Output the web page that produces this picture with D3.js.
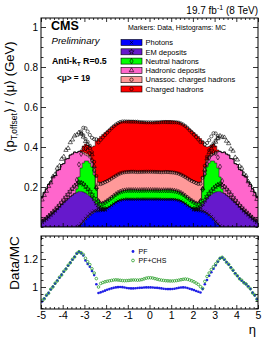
<!DOCTYPE html>
<html>
<head>
<meta charset="utf-8">
<script src="https://cdn.jsdelivr.net/npm/d3@7"></script>
<style>
  body { margin: 0; background: #fff; }
  svg { display: block; font-family: "Liberation Sans", Arial, sans-serif; }
</style>
</head>
<body>
<div id="chart"></div>
<script>
// offset per pile-up interaction, split by PF candidate type.
// the distributions are symmetric in eta, so values are given per |eta| bin
// (width 0.1, from |eta| = 0 up to 5) and looked up for both signs
const photons = [
  0.140, 0.140, 0.140, 0.140, 0.140, 0.140, 0.140, 0.140, 0.140, 0.140,
  0.140, 0.139, 0.137, 0.134, 0.130, 0.124, 0.117, 0.109, 0.102, 0.096,
  0.091, 0.088, 0.086, 0.084, 0.080, 0.074, 0.066, 0.057, 0.047, 0.036,
  0.024, 0.013, 0.004, 0, 0, 0, 0, 0, 0, 0,
  0, 0, 0, 0, 0, 0, 0, 0, 0, 0,
];
const emDeposits = [
  0, 0, 0, 0, 0, 0, 0, 0, 0, 0,
  0, 0, 0, 0, 0, 0, 0, 0, 0, 0,
  0.001, 0.004, 0.010, 0.020, 0.038, 0.058, 0.079, 0.098, 0.116, 0.134,
  0.151, 0.165, 0.174, 0.172, 0.168, 0.160, 0.152, 0.142, 0.132, 0.122,
  0.112, 0.102, 0.092, 0.082, 0.073, 0.064, 0.055, 0.046, 0.038, 0.030,
];
const neutralHadrons = [
  0.045, 0.045, 0.045, 0.045, 0.045, 0.045, 0.046, 0.046, 0.046, 0.046,
  0.045, 0.044, 0.043, 0.042, 0.041, 0.040, 0.039, 0.039, 0.038, 0.037,
  0.034, 0.029, 0.024, 0.031, 0.072, 0.128, 0.155, 0.165, 0.167, 0.160,
  0.145, 0.117, 0.072, 0.018, 0, 0, 0, 0, 0, 0,
  0, 0, 0, 0, 0, 0, 0, 0, 0, 0,
];
const hadronicDeposits = [
  0, 0, 0, 0, 0, 0, 0, 0, 0, 0,
  0, 0, 0, 0, 0, 0, 0, 0, 0, 0,
  0, 0, 0, 0, 0.005, 0.020, 0.025, 0.025, 0.025, 0.030,
  0.048, 0.080, 0.128, 0.182, 0.207, 0.205, 0.208, 0.200, 0.208, 0.195,
  0.200, 0.185, 0.190, 0.175, 0.178, 0.162, 0.158, 0.145, 0.135, 0.122,
];
const unassocCharged = [
  0.092, 0.092, 0.092, 0.092, 0.092, 0.092, 0.092, 0.093, 0.093, 0.092,
  0.092, 0.092, 0.092, 0.092, 0.092, 0.093, 0.095, 0.097, 0.099, 0.101,
  0.104, 0.105, 0.103, 0.090, 0.055, 0.020, 0.010, 0.010, 0.010, 0.010,
  0.007, 0.003, 0, 0, 0, 0, 0, 0, 0, 0,
  0, 0, 0, 0, 0, 0, 0, 0, 0, 0,
];
const chargedHadrons = [
  0.248, 0.248, 0.249, 0.250, 0.251, 0.253, 0.253, 0.253, 0.253, 0.254,
  0.254, 0.255, 0.256, 0.257, 0.257, 0.257, 0.256, 0.254, 0.251, 0.247,
  0.242, 0.237, 0.230, 0.217, 0.180, 0.105, 0.065, 0.047, 0.045, 0.045,
  0.030, 0.007, 0, 0, 0, 0, 0, 0, 0, 0,
  0, 0, 0, 0, 0, 0, 0, 0, 0, 0,
];

// data / MC ratio, one value per eta bin from -5 to 5 (width 0.1)
const ratioPF = [
  0.896, 0.918, 0.939, 0.958, 0.982, 1.003, 1.024, 1.046, 1.066, 1.088,
  1.109, 1.130, 1.152, 1.174, 1.195, 1.216, 1.238, 1.250, 1.240, 1.225,
  1.190, 1.165, 1.145, 1.115, 1.085, 1.020, 0.957, 0.962, 0.968, 0.974,
  0.980, 0.985, 0.990, 0.994, 0.997, 0.999, 1.000, 0.999, 0.996, 0.993,
  0.991, 0.990, 0.990, 0.991, 0.993, 0.994, 0.995, 0.996, 0.997, 0.997,
  0.997, 0.996, 0.995, 0.994, 0.992, 0.990, 0.988, 0.986, 0.985, 0.985,
  0.986, 0.988, 0.991, 0.994, 0.996, 0.997, 0.996, 0.993, 0.988, 0.983,
  0.978, 0.972, 0.966, 0.961, 0.985, 1.020, 1.050, 1.080, 1.105, 1.130,
  1.155, 1.180, 1.205, 1.210, 1.195, 1.178, 1.160, 1.140, 1.118, 1.098,
  1.078, 1.060, 1.045, 1.032, 1.020, 1.005, 0.985, 0.960, 0.940, 0.915,
];
const ratioCHS = [
  0.905, 0.915, 0.942, 0.955, 0.985, 1.000, 1.027, 1.043, 1.070, 1.085,
  1.112, 1.128, 1.155, 1.172, 1.198, 1.214, 1.240, 1.252, 1.245, 1.232,
  1.205, 1.180, 1.160, 1.130, 1.100, 1.060, 1.000, 1.025, 1.032, 1.037,
  1.041, 1.044, 1.047, 1.050, 1.051, 1.050, 1.048, 1.046, 1.045, 1.046,
  1.047, 1.049, 1.050, 1.050, 1.049, 1.050, 1.053, 1.058, 1.063, 1.066,
  1.066, 1.064, 1.060, 1.056, 1.052, 1.049, 1.047, 1.045, 1.044, 1.043,
  1.043, 1.044, 1.046, 1.049, 1.052, 1.055, 1.057, 1.055, 1.050, 1.044,
  1.037, 1.028, 1.018, 1.002, 0.990, 1.040, 1.075, 1.100, 1.125, 1.145,
  1.165, 1.185, 1.205, 1.212, 1.198, 1.175, 1.162, 1.138, 1.120, 1.095,
  1.080, 1.058, 1.048, 1.030, 1.022, 1.002, 0.988, 0.957, 0.943, 0.912,
];

const components = [
  { key: 'photons', label: 'Photons', color: '#0000ff', marker: d3.symbolTimes, values: photons },
  { key: 'em', label: 'EM deposits', color: '#6619cc', marker: d3.symbolStar, values: emDeposits },
  { key: 'neutral', label: 'Neutral hadrons', color: '#00ff00', marker: d3.symbolDiamond, values: neutralHadrons },
  { key: 'hadronic', label: 'Hadronic deposits', color: '#ff66cc', marker: d3.symbolTriangle, values: hadronicDeposits },
  { key: 'unassoc', label: 'Unassoc. charged hadrons', color: '#ff9999', marker: d3.symbolCircle, values: unassocCharged },
  { key: 'charged', label: 'Charged hadrons', color: '#ff0000', marker: d3.symbolCircle, values: chargedHadrons },
];

const yTicksTop = [0.2, 0.4, 0.6, 0.8, 1];
const yTicksRatio = [1, 1.2];
const xTicks = [-5, -4, -3, -2, -1, 0, 1, 2, 3, 4, 5];

// bin low edges in eta
const etaLow = d3.range(100).map(i => -5 + i * 0.1);
const binWidth = 0.1;
// maps an eta bin to its |eta| bin
const absBin = lo => Math.min(49, Math.floor(Math.abs(lo + binWidth / 2) * 10));

const svg = d3.select('#chart').append('svg')
  .attr('width', 273)
  .attr('height', 343);

const x = d3.scaleLinear().domain([-5, 5]).range([41, 258]);
const yTop = d3.scaleLinear().domain([0, 1.045]).range([227, 18]);
const yRatio = d3.scaleLinear().domain([0.843, 1.364]).range([309, 236]);

// rows for the stack: one per eta bin, plus a closing row at eta = 5
const rows = etaLow.map((lo) => {
  const row = { lo };
  components.forEach((c) => { row[c.key] = c.values[absBin(lo)]; });
  return row;
});
rows.push({ ...rows[rows.length - 1], lo: 5 });

const stacked = d3.stack().keys(components.map(c => c.key))(rows);

svg.append('clipPath').attr('id', 'clipTop')
  .append('rect').attr('x', 41).attr('y', 18).attr('width', 217).attr('height', 209);
svg.append('clipPath').attr('id', 'clipRatio')
  .append('rect').attr('x', 41).attr('y', 236).attr('width', 217).attr('height', 73);

// ---------- upper pad ----------
const upper = svg.append('g').attr('clip-path', 'url(#clipTop)');

const area = d3.area()
  .x(d => x(d.data.lo))
  .y0(d => yTop(d[0]))
  .y1(d => yTop(d[1]))
  .curve(d3.curveStepAfter);

const edgeLine = d3.line()
  .x(d => x(d.data.lo))
  .y(d => yTop(d[1]))
  .curve(d3.curveStepAfter);

upper.selectAll('path.area').data(stacked).enter().append('path')
  .attr('class', 'area')
  .attr('d', area)
  .attr('fill', (d, i) => components[i].color);

upper.selectAll('path.edge').data(stacked).enter().append('path')
  .attr('class', 'edge')
  .attr('d', edgeLine)
  .attr('fill', 'none')
  .attr('stroke', '#000')
  .attr('stroke-width', 0.5);

// data markers: measured cumulative offset at every bin centre
stacked.forEach((layer, j) => {
  const pts = layer.slice(0, 100)
    .map((d, i) => ({ eta: d.data.lo + binWidth / 2, v: d[1] * ratioPF[i], size: d[1] - d[0] }))
    .filter(p => p.size > 0);
  const sym = d3.symbol().type(components[j].marker).size(8);
  upper.append('g').selectAll('path').data(pts).enter().append('path')
    .attr('transform', p => `translate(${x(p.eta)},${yTop(p.v)})`)
    .attr('d', sym)
    .attr('fill', 'none')
    .attr('stroke', '#000')
    .attr('stroke-width', 0.6);
});

// ---------- ratio pad ----------
const lower = svg.append('g').attr('clip-path', 'url(#clipRatio)');
const binCentre = etaLow.map(lo => lo + binWidth / 2);

lower.append('g').selectAll('circle').data(ratioPF).enter().append('circle')
  .attr('cx', (d, i) => x(binCentre[i]))
  .attr('cy', d => yRatio(d))
  .attr('r', 1.3)
  .attr('fill', '#1f1fe6');

lower.append('g').selectAll('circle').data(ratioCHS).enter().append('circle')
  .attr('cx', (d, i) => x(binCentre[i]))
  .attr('cy', d => yRatio(d))
  .attr('r', 1.3)
  .attr('fill', 'none')
  .attr('stroke', '#2ca02c')
  .attr('stroke-width', 0.8);

// ---------- frames and ticks ----------
function drawFrame(yScale, yMajor, yMinorStep, y0, y1, xLabels) {
  const g = svg.append('g');
  const [lo, hi] = yScale.domain();
  const yMinor = d3.range(Math.ceil(lo / yMinorStep) * yMinorStep, hi, yMinorStep)
    .filter(v => !yMajor.some(m => Math.abs(m - v) < 1e-6));
  const xMinor = d3.range(-5, 5.001, 0.2).filter(v => Math.abs(v - Math.round(v)) > 1e-6);

  const left = g.append('g').attr('transform', 'translate(41,0)')
    .call(d3.axisLeft(yScale).tickValues(yMajor).tickSize(-5).tickPadding(3)
      .tickFormat(d => String(+d.toFixed(2))));
  left.selectAll('text').attr('font-size', xLabels ? 10.5 : 10).attr('font-family', null);
  g.append('g').attr('transform', 'translate(41,0)')
    .call(d3.axisLeft(yScale).tickValues(yMinor).tickSize(-2.5).tickFormat(''));
  g.append('g').attr('transform', 'translate(258,0)')
    .call(d3.axisRight(yScale).tickValues(yMajor).tickSize(-5).tickFormat(''));
  g.append('g').attr('transform', 'translate(258,0)')
    .call(d3.axisRight(yScale).tickValues(yMinor).tickSize(-2.5).tickFormat(''));

  const bottom = g.append('g').attr('transform', `translate(0,${y1})`)
    .call(d3.axisBottom(x).tickValues(xTicks).tickSize(-4).tickPadding(3)
      .tickFormat(xLabels ? (d => String(d)) : ''));
  bottom.selectAll('text').attr('font-size', 10.5).attr('font-family', null);
  g.append('g').attr('transform', `translate(0,${y1})`)
    .call(d3.axisBottom(x).tickValues(xMinor).tickSize(-2).tickFormat(''));
  g.append('g').attr('transform', `translate(0,${y0})`)
    .call(d3.axisTop(x).tickValues(xTicks).tickSize(-4).tickFormat(''));
  g.append('g').attr('transform', `translate(0,${y0})`)
    .call(d3.axisTop(x).tickValues(xMinor).tickSize(-2).tickFormat(''));

  g.selectAll('.domain').remove();
  g.selectAll('.tick line').attr('stroke', '#000').attr('stroke-width', 0.8);
  g.selectAll('.tick text').attr('fill', '#000');
  g.append('rect')
    .attr('x', 41).attr('y', y0).attr('width', 217).attr('height', y1 - y0)
    .attr('fill', 'none').attr('stroke', '#000').attr('stroke-width', 1);
}

drawFrame(yTop, yTicksTop, 0.05, 18, 227, false);
drawFrame(yRatio, yTicksRatio, 0.05, 236, 309, true);

// ---------- texts ----------
const lumi = svg.append('text').attr('x', 258).attr('y', 14)
  .attr('text-anchor', 'end').attr('font-size', 10);
lumi.append('tspan').text('19.7 fb');
lumi.append('tspan').attr('font-size', 7).attr('dy', -4).text('-1');
lumi.append('tspan').attr('dy', 4).text(' (8 TeV)');

svg.append('text').attr('x', 51).attr('y', 29.5)
  .attr('font-size', 12.5).attr('font-weight', 'bold').text('CMS');
svg.append('text').attr('x', 51.5).attr('y', 44)
  .attr('font-size', 9.6).attr('font-style', 'italic').text('Preliminary');

const algo = svg.append('text').attr('x', 52).attr('y', 64)
  .attr('font-size', 8.8).attr('font-weight', 'bold');
algo.append('tspan').text('Anti-k');
algo.append('tspan').attr('font-size', 6).attr('dy', 2).text('T');
algo.append('tspan').attr('dy', -2).text(' R=0.5');

svg.append('text').attr('x', 57).attr('y', 81)
  .attr('font-size', 8.2).attr('font-weight', 'bold').text('<\u03bc> = 19');

svg.append('text').attr('x', 128).attr('y', 30)
  .attr('font-size', 7).text('Markers: Data, Histograms: MC');

// legend of the upper pad
const legend = svg.append('g');
components.forEach((c, i) => {
  const cy = 42.5 + i * 9.3;
  legend.append('rect')
    .attr('x', 121).attr('y', cy - 3).attr('width', 21).attr('height', 6)
    .attr('fill', c.color).attr('stroke', '#000').attr('stroke-width', 0.6);
  legend.append('path')
    .attr('transform', `translate(131.5,${cy})`)
    .attr('d', d3.symbol().type(c.marker).size(9))
    .attr('fill', 'none').attr('stroke', '#000').attr('stroke-width', 0.6);
  legend.append('text')
    .attr('x', 145.5).attr('y', cy + 2.7)
    .attr('font-size', 7.5).text(c.label);
});

// legend of the ratio pad
svg.append('circle').attr('cx', 133).attr('cy', 251.5).attr('r', 1.4).attr('fill', '#1f1fe6');
svg.append('text').attr('x', 138.5).attr('y', 254).attr('font-size', 7).text('PF');
svg.append('circle').attr('cx', 133).attr('cy', 260.5).attr('r', 1.4)
  .attr('fill', 'none').attr('stroke', '#2ca02c').attr('stroke-width', 0.8);
svg.append('text').attr('x', 138.5).attr('y', 263).attr('font-size', 7).text('PF+CHS');

// axis titles
const yTitle = svg.append('text')
  .attr('transform', 'translate(14,97) rotate(-90)')
  .attr('text-anchor', 'middle').attr('font-size', 13);
yTitle.append('tspan').text('\u27e8p');
yTitle.append('tspan').attr('font-size', 8.5).attr('dy', 3).text('T,offset');
yTitle.append('tspan').attr('dy', -3).text('\u27e9 / \u27e8\u03bc\u27e9 (GeV)');

svg.append('text')
  .attr('transform', 'translate(19,263) rotate(-90)')
  .attr('text-anchor', 'middle').attr('font-size', 13.5).text('Data/MC');

svg.append('text').attr('x', 256).attr('y', 334)
  .attr('text-anchor', 'end').attr('font-size', 13).text('\u03b7');
</script>
</body>
</html>
